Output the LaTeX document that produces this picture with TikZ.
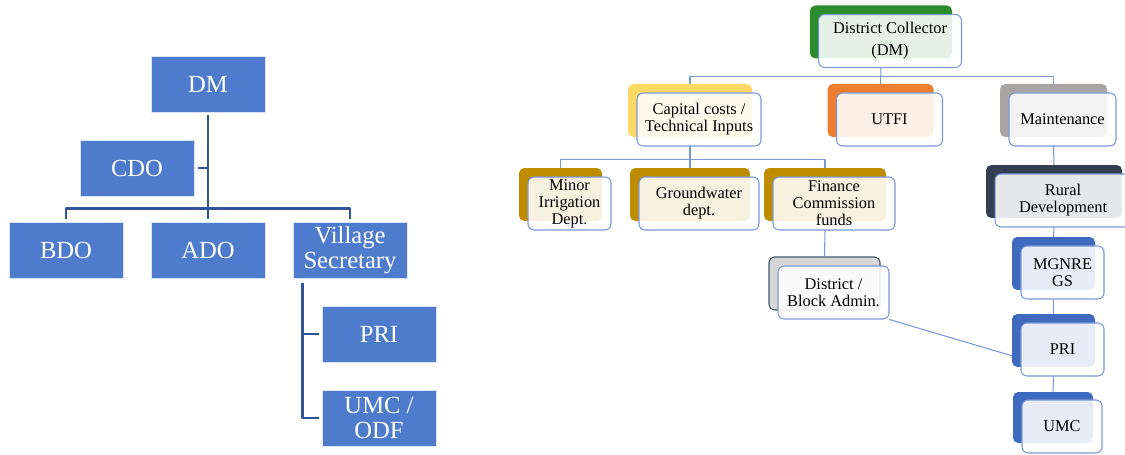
\documentclass[tikz,border=0pt]{standalone}
\usepackage{fontspec}
\setmainfont{Liberation Serif}
\newfontfamily\chartfont{Liberation Serif}
\definecolor{dmblue}{RGB}{79,123,205}
\definecolor{linkblue}{RGB}{47,85,151}
\definecolor{edgeblue}{RGB}{122,152,216}
\definecolor{dmgreen}{RGB}{42,140,42}
\definecolor{capyellow}{RGB}{255,217,102}
\definecolor{utfiorange}{RGB}{237,125,49}
\definecolor{maintgrey}{RGB}{168,164,164}
\definecolor{deptgold}{RGB}{191,140,0}
\definecolor{adminfill}{RGB}{214,214,214}
\definecolor{adminedge}{RGB}{68,84,106}
\definecolor{ruralnavy}{RGB}{51,63,82}
\definecolor{schemeblue}{RGB}{64,106,190}

\begin{document}
\begin{tikzpicture}[line cap=round,line join=round,x=0.02cm,y=-0.02cm,
  post/.style={rectangle,fill=dmblue,draw=white!80!dmblue,line width=0.5pt,text=white,
    minimum width=2.28cm,minimum height=1.12cm,inner sep=1pt,align=center,
    font=\chartfont\fontsize{14}{14.5}\selectfont},
  link/.style={draw=linkblue,line width=1.6pt,line cap=butt},
  card/.style={rectangle,rounded corners=3pt,minimum height=1.06cm,fill=#1},
  face/.style={rectangle,rounded corners=3.5pt,draw=edgeblue,line width=0.6pt,
    fill=white,fill opacity=0.88,text opacity=1,minimum height=1.06cm,inner sep=0.5pt,
    align=center,font=\chartfont\fontsize{9.3}{9.6}\selectfont},
  wire/.style={draw=edgeblue,line width=0.6pt}]
\clip (0,0) rectangle (1125,455);
% left chart
\node[post] (dm) at (208,84) {DM};
\node[post] (cdo) at (137,168) {CDO};
\node[post] (bdo) at (66,250) {BDO};
\node[post] (ado) at (208,250) {ADO};
\node[post] (vs) at (350,250) {Village\\Secretary};
\node[post] (pri) at (379,334) {PRI};
\node[post] (umc) at (379,418) {UMC /\\ODF};
\coordinate (vsfoot) at ([shift={(10,0)}]vs.south west);
\draw[link,shorten <=1.7pt,shorten >=1.7pt] (dm.south) -- (ado.north);
\draw[link,shorten >=2.2pt] (cdo -| dm) -- (cdo.east);
\draw[link,shorten <=1.7pt,shorten >=1.7pt] (bdo.north) -- ++(0,-13) -| (vs.north);
\draw[link,shorten <=2.5pt,shorten >=1.7pt] (vsfoot) |- (umc.west);
\draw[link,shorten >=1.7pt] (vsfoot |- pri.west) -- (pri.west);
% right chart
\node[card=dmgreen,minimum width=2.84cm] (dmB) at (881,32) {};
\node[face,minimum width=2.86cm] (dc) at ([shift={(9,9)}]dmB) {District Collector\\[3pt](DM)};
\node[card=capyellow,minimum width=2.48cm] (capB) at (690,110.5) {};
\node[face,minimum width=2.48cm] (cap) at ([shift={(9,9)}]capB) {Capital costs /\\Technical Inputs};
\node[card=utfiorange,minimum width=2.12cm] (utfiB) at (880.5,110.5) {};
\node[face,minimum width=2.12cm] (utfi) at ([shift={(9,9)}]utfiB) {UTFI};
\node[card=maintgrey,minimum width=2.14cm] (maintB) at (1053.5,110.5) {};
\node[face,minimum width=2.14cm] (maint) at ([shift={(9,9)}]maintB) {Maintenance};
\node[card=deptgold,minimum width=1.66cm] (minorB) at (560.5,194.5) {};
\node[face,minimum width=1.66cm] (minor) at ([shift={(9,9)}]minorB) {Minor\\Irrigation\\Dept.};
\node[card=deptgold,minimum width=2.4cm] (gwB) at (690,194.5) {};
\node[face,minimum width=2.4cm] (gw) at ([shift={(9,9)}]gwB) {Groundwater\\dept.};
\node[card=deptgold,minimum width=2.44cm] (finB) at (825,194.5) {};
\node[face,minimum width=2.44cm] (fin) at ([shift={(9,9)}]finB) {Finance\\Commission\\funds};
\node[card=adminfill,draw=adminedge,line width=0.6pt,minimum width=2.22cm] (distB) at (824.5,283.5) {};
\node[face,minimum width=2.22cm] (dist) at ([shift={(9,9)}]distB) {District /\\Block Admin.};
\node[card=ruralnavy,minimum width=2.72cm] (ruralB) at (1054,191.5) {};
\node[face,minimum width=2.72cm] (rural) at ([shift={(9,9)}]ruralB) {Rural\\Development};
\node[card=schemeblue,minimum width=1.66cm] (mgnB) at (1053.5,263.5) {};
\node[face,minimum width=1.66cm] (mgn) at ([shift={(9,9)}]mgnB) {MGNRE\\GS};
\node[card=schemeblue,minimum width=1.66cm] (priB) at (1053.5,340.5) {};
\node[face,minimum width=1.66cm] (pri2) at ([shift={(9,9)}]priB) {PRI};
\node[card=schemeblue,minimum width=1.6cm,minimum height=1.02cm] (umcB) at (1053,417.5) {};
\node[face,minimum width=1.6cm] (umc2) at ([shift={(9,9)}]umcB) {UMC};
\draw[wire] (capB.north) -- ++(0,-7.5) -| (maintB.north);
\draw[wire] (dmB |- dc.south) -- (utfiB.north);
\draw[wire] (capB |- cap.south) -- (gwB.north);
\draw[wire] (minorB.north) -- ++(0,-8) -| (finB.north);
\draw[wire] (finB |- fin.south) -- (distB.north);
\draw[wire] (maintB |- maint.south) -- (ruralB.north);
\draw[wire] (ruralB |- rural.south) -- (mgnB.north);
\draw[wire] (mgnB |- mgn.south) -- (priB.north);
\draw[wire] (priB |- pri2.south) -- (umcB.north);
\draw[wire] (dist.south east) -- (priB.200);
\end{tikzpicture}
\end{document}
